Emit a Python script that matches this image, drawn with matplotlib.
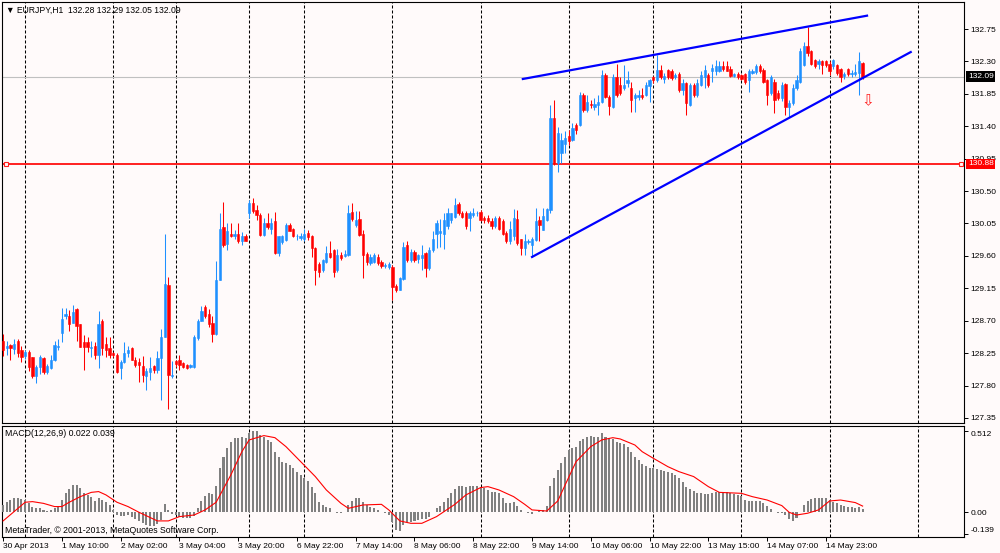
import numpy as np
import matplotlib
matplotlib.use("Agg")
import matplotlib.pyplot as plt

plt.rcParams['font.family'] = ['Liberation Sans', 'DejaVu Sans']

# EURJPY H1 candles, bar 0 = 30 Apr 2013
opens = [
    128.42, 128.32, 128.36, 128.31, 128.42, 128.30, 128.21, 128.26, 128.19, 127.93,
    128.06, 128.18, 127.99, 128.05, 128.16, 128.34, 128.53, 128.76, 128.76, 128.67,
    128.86, 128.65, 128.41, 128.41, 128.32, 128.35, 128.23, 128.70, 128.38, 128.32,
    128.25, 128.22, 128.04, 128.12, 128.25, 128.32, 128.16, 128.13, 128.07, 127.93,
    127.99, 128.07, 128.02, 128.18, 128.48, 129.20, 127.93, 128.14, 128.15, 128.11,
    128.09, 128.06, 128.06, 128.46, 128.70, 128.89, 128.79, 128.67, 128.52, 129.27,
    130.00, 129.77, 129.91, 129.87, 129.90, 129.81, 129.87, 130.19, 130.33, 130.24,
    130.17, 129.89, 130.06, 129.97, 130.08, 129.64, 129.79, 129.82, 130.03, 129.98,
    129.87, 129.85, 129.83, 129.92, 129.88, 129.71, 129.49, 129.40, 129.51, 129.64,
    129.68, 129.40, 129.61, 129.60, 129.61, 130.21, 130.03, 130.11, 129.91, 129.63,
    129.50, 129.52, 129.59, 129.52, 129.46, 129.45, 129.45, 129.18, 129.13, 129.28,
    129.75, 129.54, 129.66, 129.55, 129.57, 129.64, 129.43, 129.68, 129.91, 129.92,
    129.91, 130.01, 130.10, 130.14, 130.32, 130.19, 130.19, 130.13, 130.17, 130.19,
    130.21, 130.12, 130.13, 130.09, 130.01, 130.13, 130.08, 129.92, 129.80, 129.87,
    130.11, 129.83, 129.71, 129.79, 129.75, 129.82, 130.10, 129.96, 130.10, 130.24,
    131.51, 130.89, 131.03, 131.16, 131.26, 131.21, 131.42, 131.42, 131.83, 131.63,
    131.71, 131.67, 131.70, 131.74, 132.11, 131.81, 131.67, 132.09, 131.97, 131.93,
    132.00, 131.93, 131.79, 131.80, 131.84, 131.84, 131.96, 132.08, 132.04, 132.18,
    132.05, 132.18, 132.17, 132.09, 132.12, 131.90, 132.00, 131.70, 131.97, 131.83,
    131.97, 132.09, 132.11, 132.16, 132.16, 132.17, 132.23, 132.23, 132.20, 132.10,
    132.13, 132.11, 132.13, 132.04, 132.14, 132.15, 132.23, 132.18, 132.04, 131.86,
    132.02, 131.86, 131.79, 131.98, 131.67, 131.72, 131.93, 132.02, 132.25, 132.51,
    132.44, 132.32, 132.27, 132.31, 132.30, 132.27, 132.23, 132.25, 132.20, 132.10,
    132.19, 132.12, 132.12, 132.14, 132.28,
]
highs = [
    128.52, 128.42, 128.37, 128.45, 128.44, 128.35, 128.30, 128.30, 128.20, 128.08,
    128.22, 128.20, 128.10, 128.22, 128.42, 128.44, 128.88, 128.87, 128.85, 128.92,
    128.88, 128.66, 128.50, 128.47, 128.42, 128.41, 128.83, 128.73, 128.47, 128.48,
    128.26, 128.25, 128.15, 128.40, 128.35, 128.33, 128.19, 128.18, 128.21, 128.05,
    128.19, 128.08, 128.28, 128.58, 129.90, 129.30, 128.14, 128.15, 128.22, 128.12,
    128.10, 128.10, 128.50, 128.73, 128.90, 128.92, 128.86, 128.77, 129.53, 130.20,
    130.35, 130.06, 130.05, 129.96, 130.05, 129.93, 129.90, 130.37, 130.41, 130.31,
    130.19, 130.12, 130.19, 130.12, 130.21, 129.88, 129.89, 130.05, 130.05, 129.99,
    129.91, 129.92, 129.97, 129.96, 129.89, 129.72, 129.51, 129.56, 129.74, 129.80,
    129.69, 129.70, 129.66, 129.68, 130.30, 130.34, 130.22, 130.23, 129.96, 129.65,
    129.62, 129.64, 129.62, 129.54, 129.50, 129.51, 129.47, 129.21, 129.30, 129.79,
    129.80, 129.70, 129.68, 129.63, 129.75, 129.66, 129.73, 129.95, 130.10, 130.11,
    130.19, 130.26, 130.20, 130.41, 130.35, 130.22, 130.22, 130.22, 130.26, 130.22,
    130.24, 130.15, 130.17, 130.12, 130.16, 130.15, 130.11, 129.95, 130.08, 130.25,
    130.24, 129.84, 129.91, 129.84, 129.86, 130.26, 130.15, 130.26, 130.27, 131.70,
    131.77, 131.39, 131.30, 131.33, 131.35, 131.44, 131.44, 131.88, 131.86, 131.83,
    131.76, 131.79, 131.83, 132.18, 132.14, 131.83, 132.13, 132.27, 132.09, 132.25,
    132.16, 132.02, 131.86, 131.91, 131.93, 132.02, 132.06, 132.10, 132.39, 132.25,
    132.14, 132.20, 132.20, 132.14, 132.15, 132.05, 132.02, 132.00, 132.00, 132.05,
    132.16, 132.25, 132.14, 132.27, 132.32, 132.31, 132.31, 132.30, 132.23, 132.14,
    132.15, 132.13, 132.14, 132.19, 132.19, 132.27, 132.27, 132.21, 132.05, 132.11,
    132.05, 131.90, 132.02, 132.00, 131.77, 131.98, 132.11, 132.48, 132.57, 132.78,
    132.46, 132.34, 132.33, 132.32, 132.32, 132.30, 132.34, 132.26, 132.21, 132.15,
    132.21, 132.18, 132.27, 132.43, 132.29,
]
lows = [
    128.21, 128.22, 128.15, 128.24, 128.19, 128.13, 128.17, 128.00, 127.90, 127.83,
    127.96, 127.96, 127.96, 128.03, 128.14, 128.30, 128.40, 128.72, 128.56, 128.67,
    128.42, 128.33, 128.02, 128.26, 128.19, 128.17, 128.04, 128.22, 128.20, 128.18,
    128.20, 127.97, 127.89, 128.11, 128.19, 128.15, 128.06, 127.85, 127.85, 127.74,
    127.88, 127.97, 127.98, 127.60, 128.47, 127.47, 127.91, 128.06, 128.02, 128.04,
    128.03, 128.04, 128.05, 128.43, 128.70, 128.74, 128.61, 128.41, 128.50, 129.27,
    129.73, 129.68, 129.86, 129.83, 129.78, 129.75, 129.80, 130.12, 130.19, 130.10,
    129.87, 129.87, 129.97, 129.91, 129.63, 129.60, 129.76, 129.80, 129.94, 129.86,
    129.82, 129.82, 129.80, 129.82, 129.59, 129.20, 129.31, 129.38, 129.50, 129.57,
    129.31, 129.38, 129.54, 129.59, 129.60, 130.08, 130.00, 129.87, 129.29, 129.47,
    129.47, 129.50, 129.47, 129.43, 129.43, 129.42, 128.99, 129.10, 129.12, 129.27,
    129.52, 129.52, 129.52, 129.50, 129.40, 129.31, 129.41, 129.66, 129.71, 129.73,
    129.70, 129.98, 130.05, 130.12, 130.17, 130.12, 129.98, 129.94, 130.14, 130.16,
    130.08, 130.06, 130.05, 129.97, 129.99, 129.96, 129.89, 129.78, 129.77, 129.82,
    129.75, 129.61, 129.61, 129.76, 129.58, 129.80, 129.80, 129.96, 130.08, 130.20,
    130.86, 130.77, 130.89, 131.03, 131.14, 131.19, 131.29, 131.40, 131.60, 131.60,
    131.66, 131.63, 131.56, 131.72, 131.79, 131.56, 131.66, 131.81, 131.83, 131.90,
    131.95, 131.60, 131.60, 131.77, 131.78, 131.82, 131.74, 132.00, 132.02, 132.06,
    132.00, 132.06, 132.04, 132.05, 131.88, 131.84, 131.56, 131.68, 131.80, 131.80,
    131.96, 131.93, 131.95, 132.02, 132.11, 132.15, 132.17, 132.16, 132.08, 132.08,
    132.06, 132.04, 131.98, 131.88, 132.12, 132.13, 132.14, 132.00, 131.70, 131.84,
    131.58, 131.76, 131.75, 131.55, 131.53, 131.70, 131.90, 132.00, 132.23, 132.38,
    132.25, 132.21, 132.20, 132.13, 132.22, 132.11, 132.20, 132.11, 132.01, 132.06,
    132.10, 132.08, 132.10, 131.83, 132.05,
]
closes = [
    128.29, 128.35, 128.32, 128.38, 128.25, 128.19, 128.27, 128.06, 127.93, 128.06,
    128.19, 127.99, 128.07, 128.16, 128.36, 128.35, 128.73, 128.80, 128.66, 128.82,
    128.62, 128.34, 128.34, 128.33, 128.33, 128.23, 128.66, 128.32, 128.29, 128.22,
    128.22, 127.99, 128.12, 128.25, 128.29, 128.16, 128.09, 128.09, 127.95, 128.00,
    128.05, 128.01, 128.18, 128.48, 129.21, 127.95, 127.95, 128.10, 128.09, 128.06,
    128.04, 128.09, 128.47, 128.69, 128.84, 128.77, 128.65, 128.52, 129.27, 129.98,
    129.75, 129.95, 129.87, 129.90, 129.80, 129.88, 129.81, 130.34, 130.23, 130.17,
    129.89, 130.05, 130.00, 130.06, 129.64, 129.87, 129.87, 130.03, 129.95, 129.87,
    129.88, 129.88, 129.91, 129.86, 129.71, 129.40, 129.38, 129.54, 129.64, 129.59,
    129.38, 129.61, 129.57, 129.63, 130.19, 130.11, 130.10, 129.89, 129.61, 129.51,
    129.59, 129.61, 129.50, 129.46, 129.47, 129.49, 129.17, 129.13, 129.29, 129.73,
    129.54, 129.66, 129.54, 129.61, 129.61, 129.43, 129.68, 129.84, 130.05, 129.94,
    130.10, 130.19, 130.19, 130.31, 130.19, 130.14, 130.01, 130.19, 130.20, 130.20,
    130.10, 130.10, 130.08, 130.01, 130.13, 129.98, 129.91, 129.80, 129.97, 130.12,
    129.78, 129.71, 129.80, 129.80, 129.83, 130.08, 130.03, 130.15, 130.25, 131.51,
    130.89, 131.30, 131.21, 131.23, 131.19, 131.37, 131.35, 131.84, 131.63, 131.73,
    131.70, 131.71, 131.74, 132.11, 131.81, 131.68, 132.09, 131.83, 131.86, 131.97,
    132.04, 131.77, 131.83, 131.84, 131.80, 131.97, 132.04, 132.04, 132.18, 132.09,
    132.10, 132.09, 132.07, 132.11, 131.90, 132.00, 131.72, 131.97, 131.83, 132.00,
    132.11, 132.18, 131.97, 132.21, 132.23, 132.24, 132.19, 132.17, 132.10, 132.12,
    132.09, 132.06, 132.02, 132.16, 132.16, 132.23, 132.16, 132.02, 131.83, 132.08,
    131.77, 131.79, 131.97, 131.67, 131.72, 131.93, 132.04, 132.44, 132.51, 132.41,
    132.27, 132.23, 132.31, 132.25, 132.25, 132.16, 132.32, 132.14, 132.09, 132.12,
    132.12, 132.14, 132.15, 132.30, 132.09,
]

# MACD(12,26,9) main values (histogram) per bar
macd_hist = [
    0.046, 0.063, 0.077, 0.088, 0.088, 0.084, 0.077, 0.056, 0.036, 0.029,
    0.025, 0.015, 0.010, 0.015, 0.029, 0.036, 0.077, 0.119, 0.146, 0.171,
    0.171, 0.155, 0.119, 0.109, 0.098, 0.071, 0.088, 0.077, 0.063, 0.046,
    0.015, -0.017, -0.021, -0.021, -0.017, -0.027, -0.042, -0.054, -0.069, -0.079,
    -0.084, -0.084, -0.075, -0.048, 0.050, 0.015, -0.013, -0.017, -0.027, -0.033,
    -0.033, -0.038, -0.021, 0.025, 0.071, 0.105, 0.119, 0.113, 0.167, 0.276,
    0.349, 0.401, 0.443, 0.464, 0.468, 0.472, 0.464, 0.495, 0.512, 0.510,
    0.485, 0.474, 0.454, 0.439, 0.376, 0.349, 0.314, 0.307, 0.297, 0.276,
    0.255, 0.234, 0.217, 0.196, 0.161, 0.119, 0.067, 0.046, 0.036, 0.029,
    0.004, -0.002, -0.004, 0.004, 0.046, 0.071, 0.092, 0.092, 0.063, 0.046,
    0.036, 0.025, 0.015, 0.004, -0.006, -0.017, -0.059, -0.111, -0.117, -0.079,
    -0.063, -0.059, -0.054, -0.048, -0.042, -0.042, -0.027, 0.004, 0.025, 0.042,
    0.063, 0.088, 0.119, 0.146, 0.165, 0.165, 0.161, 0.165, 0.165, 0.165,
    0.161, 0.150, 0.140, 0.130, 0.125, 0.119, 0.088, 0.056, 0.056, 0.063,
    0.042, 0.015, 0.000, -0.006, -0.013, 0.004, 0.008, 0.015, 0.042, 0.167,
    0.217, 0.265, 0.307, 0.349, 0.391, 0.401, 0.412, 0.447, 0.460, 0.474,
    0.479, 0.474, 0.474, 0.495, 0.474, 0.464, 0.460, 0.443, 0.433, 0.426,
    0.412, 0.380, 0.349, 0.328, 0.301, 0.293, 0.280, 0.276, 0.272, 0.265,
    0.259, 0.255, 0.245, 0.234, 0.213, 0.192, 0.161, 0.146, 0.134, 0.119,
    0.119, 0.115, 0.115, 0.119, 0.125, 0.130, 0.130, 0.130, 0.119, 0.113,
    0.109, 0.105, 0.077, 0.071, 0.071, 0.071, 0.071, 0.056, 0.042, 0.021,
    0.000, -0.006, -0.006, -0.017, -0.042, -0.054, -0.038, 0.004, 0.046, 0.071,
    0.084, 0.088, 0.092, 0.092, 0.092, 0.077, 0.063, 0.056, 0.046, 0.040,
    0.036, 0.033, 0.029, 0.036, 0.022,
]

# signal line, read at a number of bars
signal_bars = [0, 6, 8, 11, 14, 16, 18, 21, 24, 26, 28, 31, 34, 37, 42, 45, 48,
               52, 55, 58, 62, 65, 67, 71, 74, 77, 81, 85, 88, 92, 94, 98, 103,
               105, 108, 111, 114, 118, 123, 126, 130, 132, 135, 139, 142, 144,
               148, 151, 153, 156, 160, 163, 166, 168, 172, 174, 177, 181, 184,
               188, 192, 195, 201, 204, 208, 212, 214, 216, 219, 222, 225, 228,
               232, 234]
signal_vals = [-0.054, 0.063, 0.067, 0.056, 0.036, 0.036, 0.063, 0.098, 0.125,
               0.130, 0.109, 0.063, 0.036, 0.000, -0.054, -0.054, -0.027, -0.017,
               0.015, 0.063, 0.234, 0.380, 0.454, 0.481, 0.468, 0.412, 0.318,
               0.224, 0.140, 0.056, 0.025, 0.046, 0.050, 0.015, -0.054, -0.069,
               -0.069, -0.027, 0.050, 0.109, 0.155, 0.161, 0.140, 0.098, 0.050,
               0.015, 0.008, 0.071, 0.171, 0.318, 0.412, 0.454, 0.468, 0.460,
               0.422, 0.380, 0.339, 0.286, 0.255, 0.224, 0.161, 0.125, 0.119,
               0.098, 0.077, 0.042, 0.000, -0.017, -0.006, 0.015, 0.071, 0.077,
               0.061, 0.039]

time_labels = ['30 Apr 2013', '1 May 10:00', '2 May 02:00', '3 May 04:00',
               '3 May 20:00', '6 May 22:00', '7 May 14:00', '8 May 06:00',
               '8 May 22:00', '9 May 14:00', '10 May 06:00', '10 May 22:00',
               '13 May 15:00', '14 May 07:00', '14 May 23:00']
label_bars = [16 * k for k in range(len(time_labels))]
day_sep_bars = [6, 30, 47, 67, 82, 106, 130, 154, 177, 201, 225, 249]
price_ticks = [127.35 + 0.45 * k for k in range(13)]
macd_ticks = [0.512, 0.0, -0.139]

bid_price = 132.09
level_price = 130.88
upper_line_bars = [141.5, 235.2]
upper_line_prices = [132.056, 132.935]
lower_line_bars = [144.0, 247.1]
lower_line_prices = [129.585, 132.43]
arrow_bar, arrow_price = 235.4, 131.76

BG = '#FFFAFA'
BULL = '#1E90FF'
BEAR = '#FF0000'

fig = plt.figure(figsize=(10, 5.53), dpi=100, facecolor=BG)
ax = fig.add_axes([0.002, 0.2351, 0.962, 0.7613], facecolor=BG)
ax2 = fig.add_axes([0.002, 0.0289, 0.962, 0.2007], facecolor=BG, sharex=ax)

x = np.arange(len(closes))
o = np.array(opens)
c = np.array(closes)
h = np.array(highs)
l = np.array(lows)
colors = np.where(c >= o, BULL, BEAR)

# grid: dashed day separators
for a in (ax, ax2):
    for b in day_sep_bars:
        a.axvline(b, color='black', lw=0.75, ls=(0, (2.9, 1.9)), zorder=1)

ax.axhline(bid_price, color='#C0C0C0', lw=0.8, zorder=1)
ax.axhline(level_price, color='#FF2020', lw=1.4, zorder=2)
ax.plot([0.004, 0.997], [level_price, level_price], transform=ax.get_yaxis_transform(),
        ls='none', marker='s', ms=3, mfc=BG, mec='#FF2020', mew=0.8, zorder=3, clip_on=False)

ax.vlines(x, l, h, colors=colors, lw=0.75, zorder=3)
ax.bar(x, c - o, bottom=o, width=0.62, color=colors, edgecolor=colors, linewidth=0.4, zorder=4)

ax.plot(upper_line_bars, upper_line_prices, color='#0000FF', lw=1.6, zorder=5)
ax.plot(lower_line_bars, lower_line_prices, color='#0000FF', lw=1.6, zorder=5)
ax.text(arrow_bar, arrow_price, '\u21e9', color='#FF2020', fontsize=11,
        ha='center', va='center', family=['DejaVu Sans'], zorder=6)

ax.set_xlim(-0.3, 261.6)
ax.set_ylim(127.28, 133.125)
ax.yaxis.tick_right()
ax.set_yticks(price_ticks)
ax.set_yticklabels([f'{p:.2f}' for p in price_ticks])
ax.tick_params(axis='y', direction='out', length=3, width=0.7, pad=1.5, labelsize=6)
ax.tick_params(axis='x', bottom=False, labelbottom=False)

for val, fc in ((bid_price, 'black'), (level_price, '#FF0000')):
    ax.text(1.004, val, f'{val:.2f}', transform=ax.get_yaxis_transform(), ha='left',
            va='center', color='white', fontsize=6, zorder=10, clip_on=False,
            bbox=dict(boxstyle='square,pad=0.2', fc=fc, ec='none'))

title = (f'\u25bc EURJPY,H1  {opens[-1]:.2f} {highs[-1]:.2f} '
         f'{lows[-1]:.2f} {closes[-1]:.2f}')
ax.text(0.004, 0.981, title, transform=ax.transAxes, fontsize=6.2, va='center', ha='left')

# MACD panel
ax2.bar(x, macd_hist, width=0.55, color='#808080', zorder=3)
ax2.plot(signal_bars, signal_vals, color='#FF0000', lw=0.8, zorder=4)
ax2.set_ylim(-0.155, 0.541)
ax2.yaxis.tick_right()
ax2.set_yticks(macd_ticks)
ax2.set_yticklabels(['0.512', '0.00', '-0.139'])
ax2.get_yticklabels()[2].set_va('bottom')
ax2.get_yticklabels()[0].set_va('top')
ax2.tick_params(axis='y', direction='out', length=3, width=0.7, pad=1.5, labelsize=6)
ax2.set_xticks(label_bars)
ax2.set_xticklabels(time_labels, ha='left')
ax2.tick_params(axis='x', direction='out', length=3, width=0.7, pad=1, labelsize=6)

ax2.text(0.003, 0.934, f'MACD(12,26,9) {macd_hist[-1]:.3f} {signal_vals[-1]:.3f}',
         transform=ax2.transAxes, fontsize=6.3, va='center', ha='left')
ax2.text(0.003, 0.057, 'MetaTrader, \u00a9 2001-2013, MetaQuotes Software Corp.',
         transform=ax2.transAxes, fontsize=6.3, va='center', ha='left')

for a in (ax, ax2):
    for s in a.spines.values():
        s.set_linewidth(0.8)
        s.set_color('black')

fig.savefig('out.png', dpi=100, facecolor=BG)
